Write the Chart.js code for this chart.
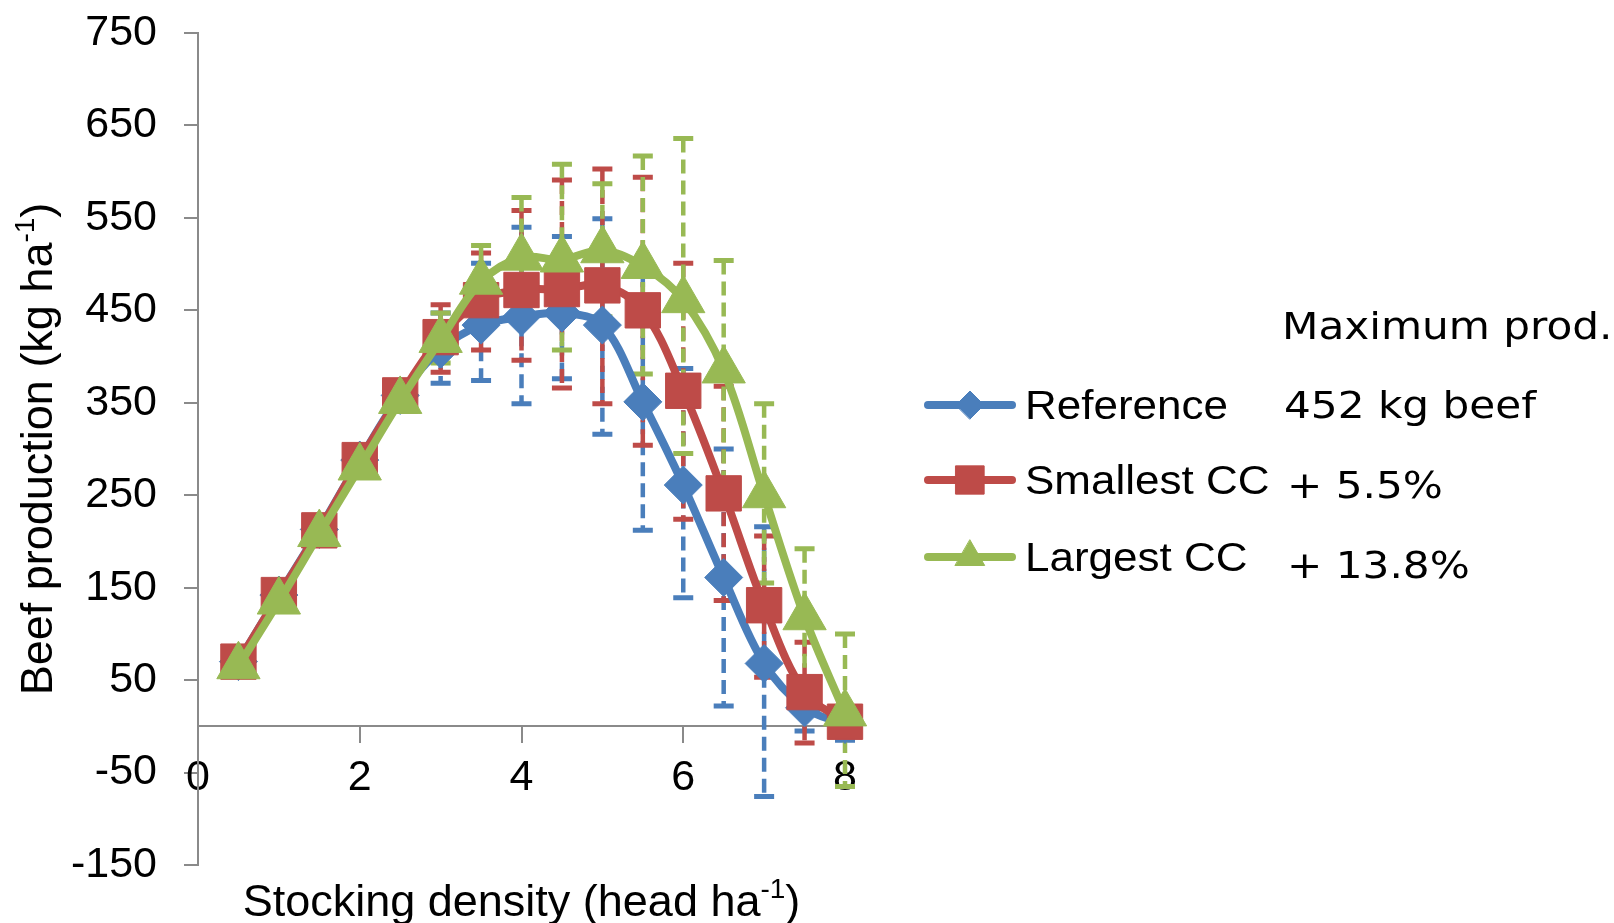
<!DOCTYPE html>
<html>
<head>
<meta charset="utf-8">
<script src="https://cdn.jsdelivr.net/npm/chart.js@4.4.1/dist/chart.umd.min.js"></script>
<style>
  html, body { margin: 0; padding: 0; background: #fff; }
  #wrap { width: 1614px; height: 923px; position: relative; }
</style>
</head>
<body>
<div id="wrap"><canvas id="chart"></canvas></div>
<script>
// stocking density (head/ha)
const stocking = [0.5, 1, 1.5, 2, 2.5, 3, 3.5, 4, 4.5, 5, 5.5, 6, 6.5, 7, 7.5, 8];

const reference = [70, 142, 213, 288, 358, 408, 434, 443, 447, 434, 351, 261, 161, 68, 20, 2];
const referenceHi = [80, 154, 225, 300, 370, 447, 501, 540, 530, 549, 490, 387, 300, 216, 45, 15];
const referenceLo = [60, 130, 201, 276, 346, 371, 374, 349, 376, 316, 212, 139, 22, -76, -5, -15];

const smallest = [70, 142, 212, 288, 358, 421, 461, 472, 473, 477, 450, 363, 252, 131, 37, 5];
const smallestHi = [80, 152, 222, 298, 370, 456, 512, 558, 591, 603, 594, 501, 368, 206, 91, 15];
const smallestLo = [60, 132, 202, 278, 346, 383, 407, 396, 366, 349, 304, 224, 136, 53, -18, -5];

const largest = [65, 135, 208, 280, 352, 418, 481, 507, 505, 515, 498, 461, 385, 250, 118, 14];
const largestHi = [75, 145, 218, 290, 362, 447, 520, 572, 608, 587, 617, 636, 504, 349, 192, 100];
const largestLo = [55, 125, 198, 270, 342, 393, 442, 442, 407, 443, 381, 295, 266, 155, 44, -65];

const xTicks = [0, 2, 4, 6, 8];
const yTicks = [-150, -50, 50, 150, 250, 350, 450, 550, 650, 750];

const seriesNames = ["Reference", "Smallest CC", "Largest CC"];
const notes = ["Maximum prod.", "452 kg beef", "+ 5.5%", "+ 13.8%"];

const BLUE = "#4A7EBB";
const RED = "#BE4B48";
const GREEN = "#98B954";
const AXIS = "#8a8a8a";
const FONT = "'Liberation Sans', Arial, sans-serif";

const series = [
	{ name: seriesNames[0], values: reference, hi: referenceHi, lo: referenceLo, color: BLUE, style: "rectRot", radius: 19, legendRadius: 14 },
	{ name: seriesNames[1], values: smallest, hi: smallestHi, lo: smallestLo, color: RED, style: "rect", radius: 25, legendRadius: 20 },
	{ name: seriesNames[2], values: largest, hi: largestHi, lo: largestLo, color: GREEN, style: "triangle", radius: 25, legendRadius: 17 },
];

// dashed error bars with solid caps, drawn under the lines
const errorBars = {
	id: "errorBars",
	beforeDatasetsDraw(chart) {
		const ctx = chart.ctx;
		const xs = chart.scales.x;
		const ys = chart.scales.y;
		ctx.save();
		for (const s of series) {
			ctx.strokeStyle = s.color;
			for (let i = 0; i < stocking.length; i++) {
				const px = xs.getPixelForValue(stocking[i]);
				const top = ys.getPixelForValue(s.hi[i]);
				const bot = ys.getPixelForValue(s.lo[i]);
				ctx.lineWidth = 4.5;
				ctx.setLineDash([14, 7]);
				ctx.beginPath();
				ctx.moveTo(px, top);
				ctx.lineTo(px, bot);
				ctx.stroke();
				ctx.setLineDash([]);
				ctx.lineWidth = 5;
				ctx.beginPath();
				ctx.moveTo(px - 10, top);
				ctx.lineTo(px + 10, top);
				ctx.moveTo(px - 10, bot);
				ctx.lineTo(px + 10, bot);
				ctx.stroke();
			}
		}
		ctx.restore();
	},
};

function stretchText(ctx, text, x, y, sx) {
	ctx.save();
	ctx.translate(x, y);
	ctx.scale(sx, 1);
	ctx.fillText(text, 0, 0);
	ctx.restore();
}

// axis titles, legend and the notes on the right
const extras = {
	id: "extras",
	afterDraw(chart) {
		const ctx = chart.ctx;
		const area = chart.chartArea;
		ctx.save();
		ctx.fillStyle = "#000";
		ctx.textBaseline = "alphabetic";

		// x title with superscript
		const xMain = "Stocking density (head ha";
		ctx.font = `45px ${FONT}`;
		const w1 = ctx.measureText(xMain).width;
		ctx.font = `28px ${FONT}`;
		const w2 = ctx.measureText("-1").width;
		ctx.font = `45px ${FONT}`;
		const w3 = ctx.measureText(")").width;
		let tx = (area.left + area.right) / 2 - (w1 + w2 + w3) / 2;
		const ty = 916;
		ctx.textAlign = "left";
		ctx.fillText(xMain, tx, ty);
		ctx.font = `28px ${FONT}`;
		ctx.fillText("-1", tx + w1, ty - 18);
		ctx.font = `45px ${FONT}`;
		ctx.fillText(")", tx + w1 + w2, ty);

		// y title, rotated
		const yMain = "Beef production (kg ha";
		ctx.save();
		ctx.translate(52, (area.top + area.bottom) / 2);
		ctx.rotate(-Math.PI / 2);
		const v1 = ctx.measureText(yMain).width;
		ctx.font = `28px ${FONT}`;
		const v2 = ctx.measureText("-1").width;
		ctx.font = `45px ${FONT}`;
		const v3 = ctx.measureText(")").width;
		let vx = -(v1 + v2 + v3) / 2;
		ctx.fillText(yMain, vx, 0);
		ctx.font = `28px ${FONT}`;
		ctx.fillText("-1", vx + v1, -18);
		ctx.font = `45px ${FONT}`;
		ctx.fillText(")", vx + v1 + v2, 0);
		ctx.restore();

		// legend
		const rows = [405, 480, 557];
		series.forEach((s, i) => {
			const y = rows[i];
			ctx.strokeStyle = s.color;
			ctx.lineWidth = 8;
			ctx.lineCap = "round";
			ctx.beginPath();
			ctx.moveTo(928, y);
			ctx.lineTo(1012, y);
			ctx.stroke();
			ctx.fillStyle = s.color;
			ctx.lineWidth = 1;
			Chart.helpers.drawPoint(ctx, { pointStyle: s.style, radius: s.legendRadius, rotation: 0, borderWidth: 1 }, 970, y);
			ctx.fillStyle = "#000";
			ctx.font = `40px ${FONT}`;
			stretchText(ctx, s.name, 1025, y + 14, 1.1);
		});

		// notes
		ctx.font = "38px 'DejaVu Sans', sans-serif";
		const noteX = [1282, 1284, 1287, 1287];
		const noteY = [339, 418, 498, 578];
		notes.forEach((t, i) => stretchText(ctx, t, noteX[i], noteY[i], 1.11));
		ctx.restore();
	},
};

const makeData = vals => stocking.map((x, i) => ({ x, y: vals[i] }));

new Chart(document.getElementById("chart"), {
	type: "line",
	data: {
		datasets: series.map((s, i) => ({
			label: s.name,
			data: makeData(s.values),
			borderColor: s.color,
			backgroundColor: s.color,
			borderWidth: 8,
			pointStyle: s.style,
			pointRadius: s.radius,
			pointBorderWidth: 1,
			pointBackgroundColor: s.color,
			pointBorderColor: s.color,
			tension: 0.35,
			clip: false,
			order: 3 - i,
		})),
	},
	options: {
		responsive: true,
		maintainAspectRatio: false,
		animation: false,
		layout: { padding: { left: 0, right: 769, top: 33, bottom: 58 } },
		plugins: {
			legend: { display: false },
			tooltip: { enabled: false },
		},
		scales: {
			x: {
				type: "linear",
				position: { y: 0 },
				min: 0,
				max: 8,
				afterBuildTicks: scale => { scale.ticks = xTicks.map(v => ({ value: v })); },
				border: { display: true, color: AXIS, width: 2 },
				grid: { drawOnChartArea: false, drawTicks: true, tickLength: 16, color: AXIS, lineWidth: 2 },
				ticks: { padding: 10, color: "#000", font: { family: FONT, size: 43 }, maxRotation: 0, autoSkip: false },
			},
			y: {
				type: "linear",
				position: "left",
				min: -150,
				max: 750,
				afterBuildTicks: scale => { scale.ticks = yTicks.map(v => ({ value: v })); },
				afterFit: scale => {
					scale.width = 198;
					scale.paddingTop = 0;
					scale.paddingBottom = 0;
				},
				border: { display: true, color: AXIS, width: 2 },
				grid: { drawOnChartArea: false, drawTicks: true, tickLength: 14, color: AXIS, lineWidth: 2 },
				ticks: { padding: 27, color: "#000", font: { family: FONT, size: 43 }, autoSkip: false },
			},
		},
	},
	plugins: [errorBars, extras],
});
</script>
</body>
</html>
